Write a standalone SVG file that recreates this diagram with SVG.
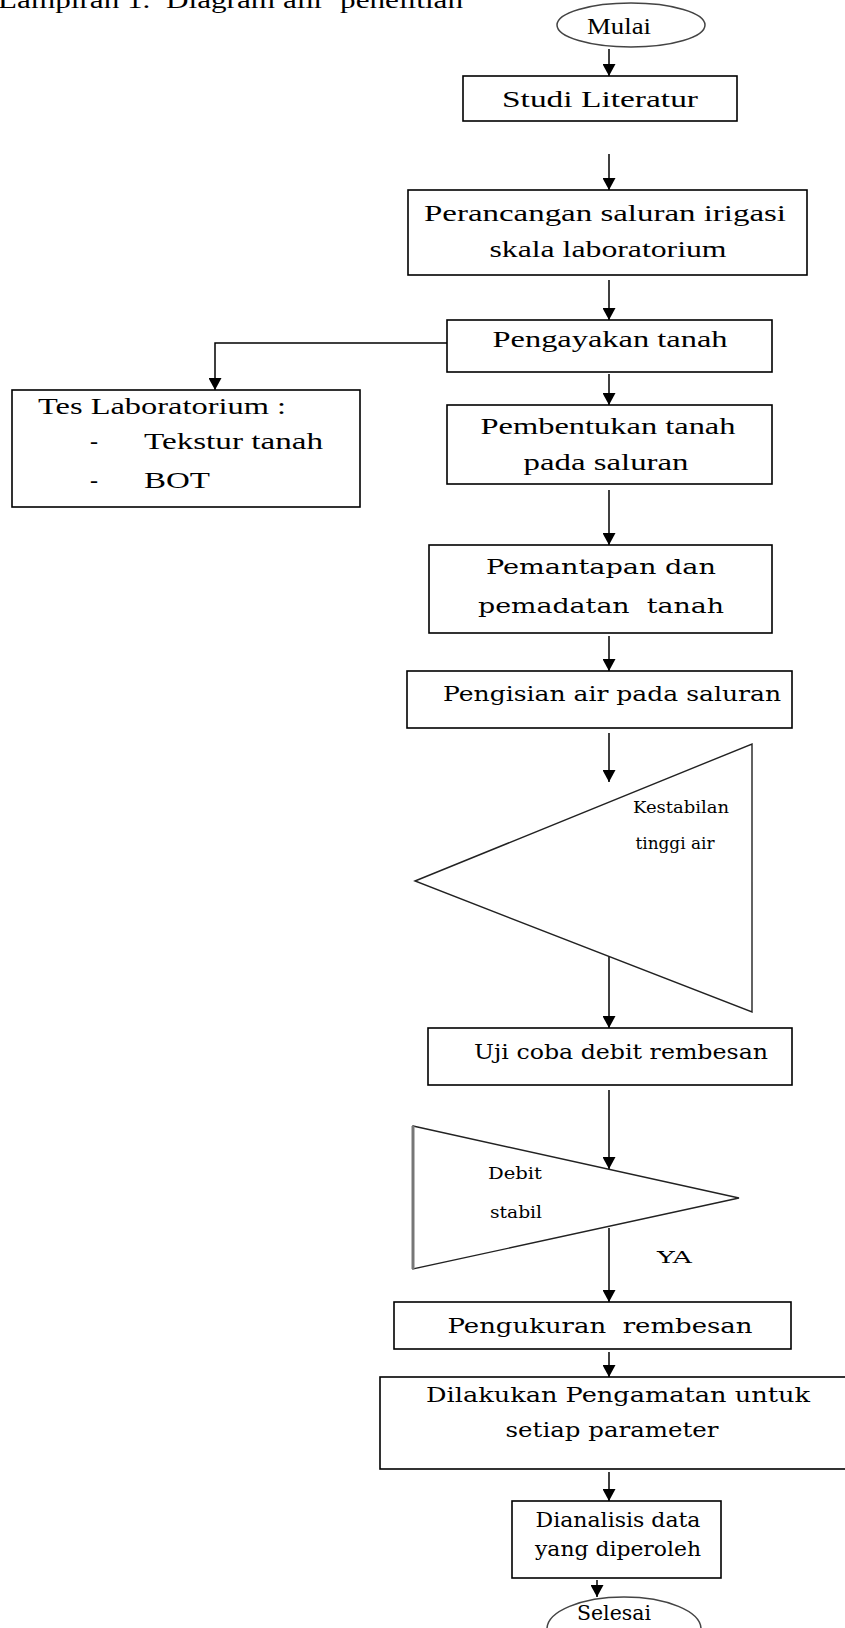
<svg xmlns="http://www.w3.org/2000/svg" width="845" height="1628" viewBox="0 0 845 1628">
<style>
.bx{fill:#fff;stroke:#000;stroke-width:1.6}
.tri{fill:#fff;stroke:#222;stroke-width:1.4}
.tt{font-family:"Liberation Serif","Times New Roman",serif;font-size:24px;fill:#000}
.tw{font-family:"DejaVu Serif","Liberation Serif",serif;font-size:21px;fill:#000}
.ts{font-family:"DejaVu Serif","Liberation Serif",serif;font-size:17px;fill:#000}
.cn{fill:none;stroke:#000;stroke-width:1.5;marker-end:url(#ah)}
</style>
<defs>
<marker id="ah" markerUnits="userSpaceOnUse" markerWidth="13" markerHeight="13" refX="12" refY="6.5" orient="auto">
<path d="M0,0 L12,6.5 L0,13 z" fill="#000"/>
</marker>
</defs>
<rect width="845" height="1628" fill="#fff"/>
<text class="tt" x="-2" y="8" textLength="465" lengthAdjust="spacingAndGlyphs" xml:space="preserve">Lampiran 1.  Diagram alir  penelitian</text>

<g id="connectors">
<line class="cn" x1="609" y1="49" x2="609" y2="76"/>
<line class="cn" x1="609" y1="154" x2="609" y2="190"/>
<line class="cn" x1="609" y1="280" x2="609" y2="320"/>
<path class="cn" d="M447,343 H215 V390"/>
<line class="cn" x1="609" y1="374" x2="609" y2="405"/>
<line class="cn" x1="609" y1="490" x2="609" y2="545"/>
<line class="cn" x1="609" y1="636" x2="609" y2="671"/>
<line class="cn" x1="609" y1="733" x2="609" y2="782"/>
<line class="cn" x1="609" y1="910" x2="609" y2="1028"/>
<line class="cn" x1="609" y1="1090" x2="609" y2="1169"/>
<line class="cn" x1="609" y1="1228" x2="609" y2="1302"/>
<line class="cn" x1="609" y1="1352" x2="609" y2="1377"/>
<line class="cn" x1="609" y1="1472" x2="609" y2="1501"/>
<line class="cn" x1="597" y1="1580" x2="597" y2="1597"/>
</g>

<g id="mulai">
<ellipse cx="631" cy="25" rx="74" ry="22" fill="#fff" stroke="#444" stroke-width="1.5"/>
<text class="tt" x="619" y="34" text-anchor="middle" font-size="28" textLength="64" lengthAdjust="spacingAndGlyphs">Mulai</text>
</g>

<g id="studi">
<rect class="bx" x="463" y="76" width="274" height="45"/>
<text class="tt" x="600" y="107" text-anchor="middle" font-size="25" textLength="196" lengthAdjust="spacingAndGlyphs">Studi Literatur</text>
</g>

<g id="perancangan">
<rect class="bx" x="408" y="190" width="399" height="85"/>
<text class="tt" x="605" y="221" text-anchor="middle" textLength="362" lengthAdjust="spacingAndGlyphs">Perancangan saluran irigasi</text>
<text class="tt" x="608" y="257" text-anchor="middle" textLength="237" lengthAdjust="spacingAndGlyphs">skala laboratorium</text>
</g>

<g id="pengayakan">
<rect class="bx" x="447" y="320" width="325" height="52"/>
<text class="tt" x="610" y="347" text-anchor="middle" textLength="235" lengthAdjust="spacingAndGlyphs">Pengayakan tanah</text>
</g>

<g id="teslab">
<rect class="bx" x="12" y="390" width="348" height="117"/>
<text class="tt" x="38" y="414" textLength="248" lengthAdjust="spacingAndGlyphs">Tes Laboratorium :</text>
<text class="tt" x="90" y="449">-</text>
<text class="tt" x="144" y="449" textLength="179" lengthAdjust="spacingAndGlyphs">Tekstur tanah</text>
<text class="tt" x="90" y="488">-</text>
<text class="tt" x="144" y="488" textLength="66" lengthAdjust="spacingAndGlyphs">BOT</text>
</g>

<g id="pembentukan">
<rect class="bx" x="447" y="405" width="325" height="79"/>
<text class="tt" x="608" y="434" text-anchor="middle" textLength="255" lengthAdjust="spacingAndGlyphs">Pembentukan tanah</text>
<text class="tt" x="606" y="470" text-anchor="middle" textLength="165" lengthAdjust="spacingAndGlyphs">pada saluran</text>
</g>

<g id="pemantapan">
<rect class="bx" x="429" y="545" width="343" height="88"/>
<text class="tw" x="601" y="574" text-anchor="middle" textLength="230" lengthAdjust="spacingAndGlyphs">Pemantapan dan</text>
<text class="tw" x="601" y="613" text-anchor="middle" textLength="246" lengthAdjust="spacingAndGlyphs" xml:space="preserve">pemadatan  tanah</text>
</g>

<g id="pengisian">
<rect class="bx" x="407" y="671" width="385" height="57"/>
<text class="tw" x="612" y="701" text-anchor="middle" textLength="338" lengthAdjust="spacingAndGlyphs">Pengisian air pada saluran</text>
</g>

<g id="kestabilan">
<polygon class="tri" points="415,881 752,744 752,1012"/>
<text class="ts" x="681" y="813" text-anchor="middle" textLength="96" lengthAdjust="spacingAndGlyphs">Kestabilan</text>
<text class="ts" x="675" y="849" text-anchor="middle" textLength="79" lengthAdjust="spacingAndGlyphs">tinggi air</text>
</g>

<g id="ujicoba">
<rect class="bx" x="428" y="1028" width="364" height="57"/>
<text class="tw" x="621" y="1059" text-anchor="middle" textLength="294" lengthAdjust="spacingAndGlyphs">Uji coba debit rembesan</text>
</g>

<g id="debit">
<polygon class="tri" points="413,1126 739,1198 413,1269"/>
<line x1="413" y1="1126" x2="413" y2="1269" stroke="#777" stroke-width="3"/>
<text class="ts" x="515" y="1179" text-anchor="middle" textLength="54" lengthAdjust="spacingAndGlyphs">Debit</text>
<text class="ts" x="516" y="1218" text-anchor="middle" textLength="52" lengthAdjust="spacingAndGlyphs">stabil</text>
</g>

<g id="ya">
<text class="ts" x="657" y="1263" textLength="35" lengthAdjust="spacingAndGlyphs">YA</text>
</g>

<g id="pengukuran">
<rect class="bx" x="394" y="1302" width="397" height="47"/>
<text class="tw" x="600" y="1333" text-anchor="middle" textLength="305" lengthAdjust="spacingAndGlyphs" xml:space="preserve">Pengukuran  rembesan</text>
</g>

<g id="dilakukan">
<rect class="bx" x="380" y="1377" width="480" height="92"/>
<text class="tw" x="618" y="1402" text-anchor="middle" textLength="384" lengthAdjust="spacingAndGlyphs">Dilakukan Pengamatan untuk</text>
<text class="tw" x="612" y="1437" text-anchor="middle" textLength="213" lengthAdjust="spacingAndGlyphs">setiap parameter</text>
</g>

<g id="dianalisis">
<rect class="bx" x="512" y="1501" width="209" height="77"/>
<text class="tw" x="618" y="1527" text-anchor="middle" textLength="165" lengthAdjust="spacingAndGlyphs">Dianalisis data</text>
<text class="tw" x="618" y="1556" text-anchor="middle" textLength="166" lengthAdjust="spacingAndGlyphs">yang diperoleh</text>
</g>

<g id="selesai">
<ellipse cx="624" cy="1629" rx="77" ry="32" fill="#fff" stroke="#444" stroke-width="1.5"/>
<text class="tw" x="614" y="1620" text-anchor="middle" textLength="74" lengthAdjust="spacingAndGlyphs">Selesai</text>
</g>
</svg>
